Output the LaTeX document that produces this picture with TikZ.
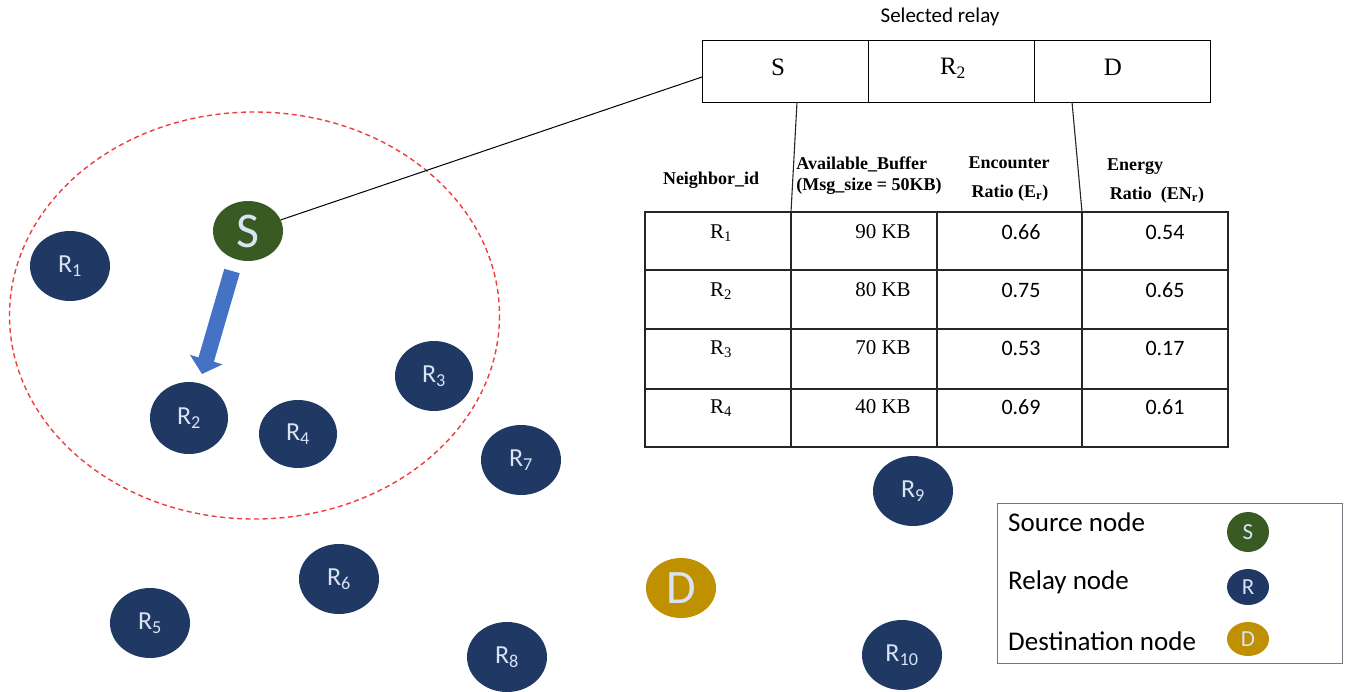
\documentclass[tikz,border=0pt]{standalone}
\usepackage{fontspec}
\setmainfont{Liberation Serif}
\newfontfamily\calfont{Carlito}
\usetikzlibrary{shapes.geometric}
\definecolor{srcgreen}{HTML}{3A5A24}
\definecolor{relayblue}{HTML}{203864}
\definecolor{destgold}{HTML}{BF9000}
\definecolor{lbltxt}{HTML}{DAE3F3}
\definecolor{arrowblue}{HTML}{4472C4}
\definecolor{legendgray}{HTML}{707680}
\definecolor{dashred}{HTML}{F03C3C}
\tikzset{
  netnode/.style={ellipse, draw=none, inner sep=0pt, text=lbltxt},
  relay/.style={netnode, fill=relayblue, minimum width=80pt, minimum height=70pt, font=\calfont\fontsize{26}{26}\selectfont},
  bignode/.style={netnode, minimum width=70pt, minimum height=60pt, font=\calfont\fontsize{50}{50}\selectfont},
  legnode/.style={netnode, minimum width=42pt, font=\calfont\fontsize{23}{23}\selectfont},
  cell/.style={draw, line width=1pt, minimum height=62pt, inner sep=0pt},
  celltxt/.style={inner sep=0pt, font=\fontsize{25}{25}\selectfont},
  hdr/.style={inner sep=0pt, align=center, font=\bfseries\fontsize{18}{21}\selectfont},
  tval/.style={inner sep=0pt, font=\fontsize{21}{21}\selectfont},
  cval/.style={inner sep=0pt, font=\calfont\fontsize{22}{22}\selectfont},
  legtxt/.style={inner sep=0pt, anchor=west, font=\calfont\fontsize{27}{27}\selectfont},
  tline/.style={line width=1.1pt, draw=black!85}
}
\begin{document}
\begin{tikzpicture}[x=1pt,y=-1pt]
\useasboundingbox (0,0) rectangle (1348,691);
% range ellipse
\draw[dashred, dash pattern=on 5pt off 3.5pt, line width=1.4pt] (254.5,315.5) ellipse [x radius=245, y radius=203.5];
% nodes
\node[bignode, fill=srcgreen] (S) at (248,231) {S};
\node[relay] (R1) at (70,266) {R\textsubscript{1}};
\node[relay, minimum width=78pt, minimum height=72pt] (R2) at (189,418) {R\textsubscript{2}};
\node[relay, minimum width=78pt] (R3) at (434,376) {R\textsubscript{3}};
\node[relay, minimum width=78pt, minimum height=68pt] (R4) at (298,434) {R\textsubscript{4}};
\node[relay] (R5) at (150,623) {R\textsubscript{5}};
\node[relay] (R6) at (339,579) {R\textsubscript{6}};
\node[relay] (R7) at (521,460) {R\textsubscript{7}};
\node[relay] (R8) at (507,657) {R\textsubscript{8}};
\node[relay] (R9) at (913,491) {R\textsubscript{9}};
\node[relay] (R10) at (902,655) {R\textsubscript{10}};
\node[bignode, fill=destgold, font=\calfont\fontsize{48}{48}\selectfont] (D) at (681,588) {D};
% blue arrow S -> R2
\fill[arrowblue] (239.7,273.2) -- (213.9,361.8) -- (222.5,364.4) -- (202,374) -- (189.9,354.8) -- (198.5,357.4) -- (224.3,268.8) -- cycle;
% selected relay box
\node[inner sep=0pt, font=\calfont\fontsize{21}{21}\selectfont] (title) at (940,17) {Selected relay};
\node[cell, minimum width=166pt] (bS) at (785,71) {};
\node[cell, minimum width=166pt] (bR) at (951,71) {};
\node[cell, minimum width=176pt] (bD) at (1122,71) {};
\node[celltxt] (bSt) at (778,67) {S};
\node[celltxt] (bRt) at (953,68) {R\textsubscript{2}};
\node[celltxt] (bDt) at (1113,67) {D};
\coordinate (lineEnd) at (702,77);
\draw[line width=1pt] (S) -- (lineEnd);
% table lines
\coordinate (t1) at (797,102);
\coordinate (t2) at (791,212);
\coordinate (t3) at (1072,102);
\coordinate (t4) at (1082,212);
\draw[tline] (t1) -- (t2);
\draw[tline] (t3) -- (t4);
\draw[tline] (645,212) rectangle (1228,447);
\foreach \yy in {270,329,389} \draw[tline] (645,\yy) -- (1228,\yy);
\draw[tline] (791,212) -- (791,447);
\draw[tline] (937,212) -- (937,447);
\draw[tline] (1082,212) -- (1082,447);
% headers
\node[hdr] (h1) at (711,180) {Neighbor\_id};
\node[hdr, align=left] (h2) at (869,176) {Available\_Buffer\\(Msg\_size = 50KB)};
\node[hdr] (h3a) at (1009,163) {Encounter};
\node[hdr] (h3b) at (1010,193) {Ratio (E\textsubscript{r})};
\node[hdr] (h4a) at (1135,167) {Energy};
\node[hdr] (h4b) at (1157,195) {Ratio\ \ (EN\textsubscript{r})};
% rows
\node[tval] (r1a) at (721,233) {R\textsubscript{1}};
\node[tval] (r1b) at (883,232) {90 KB};
\node[cval] (r1c) at (1021,232) {0.66};
\node[cval] (r1d) at (1165,232) {0.54};
\node[tval] (r2a) at (721,291) {R\textsubscript{2}};
\node[tval] (r2b) at (883,290) {80 KB};
\node[cval] (r2c) at (1021,290) {0.75};
\node[cval] (r2d) at (1165,290) {0.65};
\node[tval] (r3a) at (721,349) {R\textsubscript{3}};
\node[tval] (r3b) at (883,348) {70 KB};
\node[cval] (r3c) at (1021,348) {0.53};
\node[cval] (r3d) at (1165,348) {0.17};
\node[tval] (r4a) at (721,408) {R\textsubscript{4}};
\node[tval] (r4b) at (883,407) {40 KB};
\node[cval] (r4c) at (1021,407) {0.69};
\node[cval] (r4d) at (1165,407) {0.61};
% legend
\node[draw=legendgray, line width=1pt, minimum width=345pt, minimum height=160pt, inner sep=0pt] (legend) at (1169.5,583) {};
\node[legtxt] (l1) at (1008,522) {Source node};
\node[legtxt] (l2) at (1008,582) {Relay node};
\node[legtxt] (l3) at (1008,641) {Destination node};
\node[legnode, fill=srcgreen, minimum height=40pt] (lS) at (1248,532) {S};
\node[legnode, fill=relayblue, minimum height=36pt] (lR) at (1248,587) {R};
\node[legnode, fill=destgold, minimum height=34pt] (lD) at (1248,639) {D};
\end{tikzpicture}
\end{document}
